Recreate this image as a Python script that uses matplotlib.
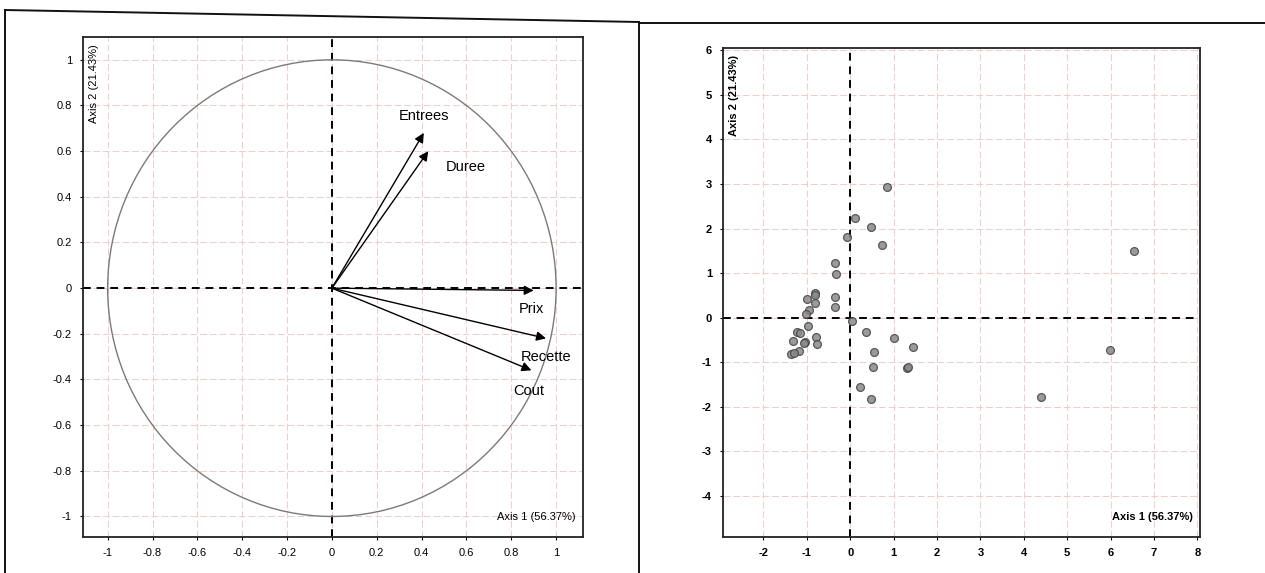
import numpy as np
import matplotlib.pyplot as plt
from matplotlib.patches import Circle
from matplotlib.lines import Line2D

plt.rcParams['font.family'] = ['Liberation Sans', 'DejaVu Sans']
plt.rcParams['axes.unicode_minus'] = False

# correlation circle: variable loadings on axes 1 and 2
var_names = ['Entrees', 'Duree', 'Prix', 'Recette', 'Cout']
var_ax1 = [0.41, 0.43, 0.90, 0.955, 0.89]
var_ax2 = [0.68, 0.60, -0.01, -0.22, -0.36]

# individuals on the factor plane
ind_ax1 = [0.85, 0.10, 0.48, 0.74, -0.08, -0.36, -0.32, -0.35, -0.35, -0.81,
           -0.80, -0.81, -1.00, -0.94, -1.01, -0.98, 0.04, 0.36, 1.01, 1.44,
           0.56, 0.53, 1.31, 1.33, 0.23, 0.48, -1.23, -1.15, -1.31, -1.04,
           -0.79, -0.77, -1.18, -1.37, -1.30, -1.07, 6.55, 5.99, 4.40]
ind_ax2 = [2.93, 2.24, 2.03, 1.63, 1.80, 1.23, 0.99, 0.46, 0.25, 0.55,
           0.50, 0.33, 0.42, 0.18, 0.09, -0.18, -0.08, -0.32, -0.46, -0.66,
           -0.77, -1.10, -1.12, -1.10, -1.55, -1.82, -0.31, -0.35, -0.52, -0.55,
           -0.44, -0.58, -0.74, -0.81, -0.80, -0.56, 1.50, -0.72, -1.77]

xlabel = 'Axis 1 (56.37%)'
ylabel = 'Axis 2 (21.43%)'

left_ticks = [-1, -0.8, -0.6, -0.4, -0.2, 0, 0.2, 0.4, 0.6, 0.8, 1]
right_xticks = [-2, -1, 0, 1, 2, 3, 4, 5, 6, 7, 8]
right_yticks = [-4, -3, -2, -1, 0, 1, 2, 3, 4, 5, 6]

fig = plt.figure(figsize=(12.65, 5.73), dpi=100)

W, H = 1265, 573
ax1 = fig.add_axes([83 / W, 1 - 537 / H, 500 / W, 500 / H])
ax2 = fig.add_axes([723 / W, 1 - 537 / H, 477 / W, 489 / H])

grid_kw = dict(color='#f0cccc', lw=0.7, ls=(0, (7, 3)))


def style(ax, weight):
    ax.grid(True, **grid_kw)
    ax.set_axisbelow(True)
    for s in ax.spines.values():
        s.set_linewidth(1.3)
        s.set_color('#222222')
    ax.tick_params(length=2, width=0.8, labelsize=8, pad=6)
    for lab in ax.get_xticklabels() + ax.get_yticklabels():
        lab.set_fontweight(weight)
    ax.axhline(0, color='black', lw=1.4, ls=(0, (4, 3)), zorder=2)
    ax.axvline(0, color='black', lw=1.4, ls=(0, (4, 3)), zorder=2)
    ax.text(0.985, 0.03, xlabel, transform=ax.transAxes, ha='right', va='bottom',
            fontsize=8, fontweight=weight)
    ax.text(0.012, 0.985, ylabel, transform=ax.transAxes, ha='left', va='top',
            rotation=90, fontsize=8, fontweight=weight)


# left: correlation circle
ax1.set_xlim(-1.11, 1.12)
ax1.set_ylim(-1.09, 1.1)
ax1.set_xticks(left_ticks)
ax1.set_yticks(left_ticks)
ax1.set_xticklabels([f'{t:g}' for t in left_ticks])
ax1.set_yticklabels([f'{t:g}' for t in left_ticks])
style(ax1, 'normal')
ax1.add_patch(Circle((0, 0), 1, fill=False, ec='#7a7a7a', lw=1.0, zorder=3))

label_off = {'Entrees': (0.0, 0.075, 'center'), 'Duree': (0.08, -0.07, 'left'),
             'Prix': (-0.01, -0.08, 'center'), 'Recette': (0.0, -0.08, 'center'),
             'Cout': (-0.01, -0.09, 'center')}
for name, x, y in zip(var_names, var_ax1, var_ax2):
    ax1.annotate('', xy=(x, y), xytext=(0, 0),
                 arrowprops=dict(arrowstyle='-|>', color='black', lw=1.0,
                                 mutation_scale=14, shrinkA=0, shrinkB=0), zorder=4)
    dx, dy, ha = label_off[name]
    ax1.text(x + dx, y + dy, name, ha=ha, va='center', fontsize=10.5, zorder=5)

# right: individuals
ax2.set_xlim(-2.93, 8.06)
ax2.set_ylim(-4.92, 6.05)
ax2.set_xticks(right_xticks)
ax2.set_yticks(right_yticks)
style(ax2, 'bold')
ax2.scatter(ind_ax1, ind_ax2, s=32, c='#8a8a8a', edgecolors='#444444',
            linewidths=0.9, alpha=0.85, zorder=4)

# panel frames
frame_kw = dict(color='#111111', lw=1.4, transform=fig.transFigure)
fig.add_artist(Line2D([5 / W, 639 / W], [1 - 10 / H, 1 - 22 / H], **frame_kw))
fig.add_artist(Line2D([5 / W, 5 / W], [1 - 10 / H, 0], **frame_kw))
fig.add_artist(Line2D([639 / W, 639 / W], [1 - 22 / H, 0], **frame_kw))
fig.add_artist(Line2D([639 / W, 1], [1 - 23 / H, 1 - 23 / H], **frame_kw))

fig.savefig('out.png', dpi=100)
